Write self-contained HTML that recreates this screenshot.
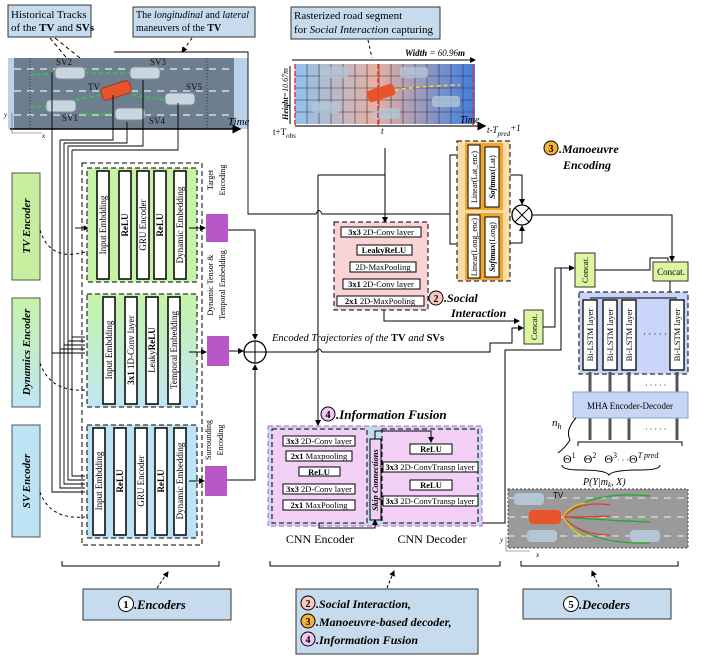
<!DOCTYPE html>
<html><head><meta charset="utf-8"><style>
html,body{margin:0;padding:0;background:#fff}
svg{display:block;font-family:"Liberation Serif",serif}
.b{font-weight:bold}.i{font-style:italic}
</style></head><body>
<svg width="705" height="664" viewBox="0 0 705 664" xmlns="http://www.w3.org/2000/svg">
<defs>
<marker id="ar" markerWidth="6" markerHeight="6" refX="5" refY="3" orient="auto"><path d="M0,0 L6,3 L0,6z" fill="#000"/></marker>
<linearGradient id="dyn" x1="0" y1="0" x2="0" y2="1"><stop offset="0" stop-color="#c6f3a8"/><stop offset="1" stop-color="#bfe6f6"/></linearGradient>
<linearGradient id="ras" x1="0" y1="0" x2="1" y2="0"><stop offset="0" stop-color="#8fc2ee"/><stop offset="0.45" stop-color="#e8b0a0"/><stop offset="1" stop-color="#3f7fe0"/></linearGradient>
</defs>

<rect x="8" y="5" width="83" height="32" fill="#c6dcee" stroke="#333"/>
<text x="11" y="18" font-size="11">Historical Tracks</text>
<text x="11" y="31" font-size="11">of the <tspan class="b">TV</tspan> and <tspan class="b">SVs</tspan></text>
<rect x="133" y="7" width="122" height="30" fill="#c6dcee" stroke="#333"/>
<text x="136" y="18" font-size="10">The <tspan class="i">longitudinal</tspan> and <tspan class="i">lateral</tspan></text>
<text x="136" y="31" font-size="10">maneuvers of the <tspan class="b">TV</tspan></text>
<rect x="291" y="7" width="149" height="32" fill="#c6dcee" stroke="#333"/>
<text x="294" y="19" font-size="11">Rasterized road segment</text>
<text x="294" y="33" font-size="11">for <tspan class="i">Social Interaction</tspan> capturing</text>
<line x1="50" y1="38" x2="70" y2="62" stroke="#000" stroke-dasharray="4,3"/>
<line x1="55" y1="38" x2="110" y2="82" stroke="#000" stroke-dasharray="4,3" marker-end="url(#ar)"/>
<line x1="192" y1="38" x2="182" y2="52" stroke="#000" stroke-dasharray="3,3" marker-end="url(#ar)"/>
<line x1="368" y1="40" x2="372" y2="58" stroke="#000" stroke-dasharray="3,3"/>

<rect x="8" y="58" width="240" height="71" fill="#6d7e8f"/>
<rect x="8" y="58" width="6" height="71" fill="#b9d2ea"/><rect x="234" y="58" width="14" height="71" fill="#b9d2ea"/>
<g stroke="#e6eef4" stroke-dasharray="7,6" stroke-width="1.2"><line x1="14" y1="69" x2="234" y2="69"/><line x1="14" y1="91" x2="234" y2="91"/><line x1="14" y1="115" x2="234" y2="115"/></g>
<line x1="30" y1="58" x2="30" y2="128" stroke="#333" stroke-dasharray="1,2"/><line x1="207" y1="58" x2="207" y2="128" stroke="#333" stroke-dasharray="1,2"/>
<g fill="#c8d6e2" stroke="#889"><rect x="55" y="67" width="30" height="12" rx="4"/><rect x="130" y="67" width="30" height="12" rx="4"/><rect x="46" y="100" width="30" height="12" rx="4"/><rect x="115" y="108" width="30" height="12" rx="4"/><rect x="165" y="93" width="30" height="12" rx="4"/></g>
<rect x="101" y="84" width="30" height="13" rx="4" fill="#e8542a" stroke="#933" transform="rotate(-18 116 90)"/>
<g stroke="#2ed52e" stroke-dasharray="4,3" stroke-width="1.3"><line x1="30" y1="75" x2="55" y2="73"/><line x1="85" y1="73" x2="130" y2="73"/><line x1="30" y1="107" x2="46" y2="106"/><line x1="76" y1="100" x2="100" y2="95"/><line x1="80" y1="114" x2="115" y2="114"/><line x1="132" y1="95" x2="165" y2="100"/></g>
<g font-size="9" fill="#111"><text x="56" y="65">SV2</text><text x="150" y="65">SV3</text><text x="88" y="90">TV</text><text x="186" y="90">SV5</text><text x="62" y="121">SV1</text><text x="149" y="124">SV4</text></g>
<line x1="10" y1="129" x2="240" y2="129" stroke="#000" stroke-width="1.5" marker-end="url(#ar)"/>
<text x="228" y="125" font-size="11" class="i">Time</text>
<path d="M12,113 V133 H42" fill="none" stroke="#555" stroke-width=".6"/><text x="4" y="117" font-size="7" class="i">y</text><text x="42" y="138" font-size="7" class="i">x</text>

<line x1="292" y1="60" x2="475" y2="60" stroke="#000" marker-end="url(#ar)"/>
<text x="405" y="56" font-size="9" class="b i">Width <tspan font-weight="normal">= 60.96</tspan>m</text>
<rect x="295" y="64" width="180" height="60" fill="url(#ras)"/>
<g stroke="#334" stroke-width=".6">
<line x1="295" y1="76" x2="475" y2="76"/><line x1="295" y1="88" x2="475" y2="88"/><line x1="295" y1="100" x2="475" y2="100"/><line x1="295" y1="112" x2="475" y2="112"/>
<line x1="307" y1="64" x2="307" y2="124"/><line x1="319" y1="64" x2="319" y2="124"/><line x1="331" y1="64" x2="331" y2="124"/><line x1="343" y1="64" x2="343" y2="124"/><line x1="355" y1="64" x2="355" y2="124"/><line x1="367" y1="64" x2="367" y2="124"/><line x1="379" y1="64" x2="379" y2="124"/><line x1="391" y1="64" x2="391" y2="124"/><line x1="403" y1="64" x2="403" y2="124"/><line x1="415" y1="64" x2="415" y2="124"/><line x1="427" y1="64" x2="427" y2="124"/><line x1="439" y1="64" x2="439" y2="124"/><line x1="451" y1="64" x2="451" y2="124"/><line x1="463" y1="64" x2="463" y2="124"/></g>
<g fill="#b4c6d6" opacity=".8"><rect x="320" y="67" width="28" height="11" rx="3"/><rect x="400" y="67" width="28" height="11" rx="3"/><rect x="312" y="102" width="28" height="11" rx="3"/><rect x="372" y="108" width="28" height="11" rx="3"/><rect x="432" y="96" width="28" height="11" rx="3"/></g>
<rect x="367" y="87" width="28" height="12" rx="3" fill="#e8542a" transform="rotate(-18 381 93)"/>
<path d="M395,90 Q420,86 460,85" stroke="#f0e020" stroke-width="1.5" stroke-dasharray="4,3" fill="none"/>
<line x1="295" y1="64" x2="295" y2="126" stroke="#e33" stroke-width="1.5" stroke-dasharray="5,2"/><line x1="378" y1="64" x2="378" y2="126" stroke="#e33" stroke-width="1.5" stroke-dasharray="5,2"/><line x1="473" y1="64" x2="473" y2="126" stroke="#e33" stroke-width="1.5" stroke-dasharray="5,2"/>
<line x1="290" y1="66" x2="290" y2="124" stroke="#000"/>
<text x="288" y="120" font-size="8" class="i" transform="rotate(-90 288 120)"><tspan class="b">Height</tspan>=10.67m</text>
<line x1="295" y1="126" x2="485" y2="126" stroke="#444" stroke-width="1.5" marker-end="url(#ar)"/>
<text x="460" y="123" font-size="10" class="i">Time</text>
<text x="273" y="135" font-size="9">t+T<tspan font-size="7" dy="3" class="i">obs</tspan></text>
<text x="381" y="134" font-size="9" class="i">t</text>
<text x="487" y="133" font-size="9" class="i">t-T<tspan font-size="7" dy="3">pred</tspan><tspan dy="-5">+1</tspan></text>

<rect x="12" y="173" width="28" height="107" fill="#c6f0a0" stroke="#555"/>
<text x="30" y="226" font-size="11" class="b i" text-anchor="middle" transform="rotate(-90 30 226)">TV Encoder</text>
<rect x="12" y="298" width="28" height="109" fill="url(#dyn)" stroke="#555"/>
<text x="30" y="352" font-size="11" class="b i" text-anchor="middle" transform="rotate(-90 30 352)">Dynamics Encoder</text>
<rect x="12" y="425" width="28" height="112" fill="#bde4f5" stroke="#555"/>
<text x="30" y="481" font-size="11" class="b i" text-anchor="middle" transform="rotate(-90 30 481)">SV Encoder</text>
<g fill="none" stroke="#000" stroke-dasharray="3,3"><path d="M40,230 Q50,262 85,252"/><path d="M40,363 Q50,392 85,390"/><path d="M40,492 Q50,520 85,517"/></g>

<g fill="none" stroke="#000" stroke-width=".9">
<path d="M52,72 V492 H85"/><path d="M60,140 V488 H85"/><path d="M64,143 V484 H85"/><path d="M68,146 V480 H85"/><path d="M72,150 V476 H85"/>
<path d="M52,353 H85"/><path d="M60,349 H85"/><path d="M64,345 H85"/><path d="M68,341 H85"/><path d="M72,337 H85"/>
<path d="M113,95 V140 H60"/><path d="M127,122 V143 H64"/><path d="M143,80 V146 H68"/><path d="M178,103 V150 H72"/>
<path d="M75,228 H88" marker-end="url(#ar)"/>
<path d="M114,52 H248 V214 H316 Q319,207 322,214 H450"/>
</g>

<rect x="82" y="163" width="120" height="382" fill="none" stroke="#000" stroke-dasharray="5,3"/>
<rect x="87" y="168" width="110" height="114" fill="#c6f3a8" stroke="#000" stroke-dasharray="5,3"/>
<rect x="87" y="294" width="110" height="113" fill="url(#dyn)" stroke="#000" stroke-dasharray="5,3"/>
<rect x="87" y="425" width="110" height="113" fill="#bde4f5" stroke="#000" stroke-dasharray="5,3"/>
<g fill="#fff" stroke="#000" stroke-width="1.5">
<rect x="97" y="171" width="12" height="108"/><rect x="119" y="171" width="12" height="108"/><rect x="137" y="171" width="12" height="108"/><rect x="154" y="171" width="12" height="108"/><rect x="174" y="171" width="12" height="108"/>
<rect x="103" y="297" width="12" height="107"/><rect x="125" y="297" width="12" height="107"/><rect x="146" y="297" width="12" height="107"/><rect x="168" y="297" width="12" height="107"/>
<rect x="93" y="428" width="12" height="107"/><rect x="114" y="428" width="12" height="107"/><rect x="135" y="428" width="12" height="107"/><rect x="155" y="428" width="12" height="107"/><rect x="174" y="428" width="12" height="107"/></g>
<g font-size="9" text-anchor="middle">
<text transform="translate(106,225) rotate(-90)">Input Embdding</text><text class="b" transform="translate(128,225) rotate(-90)">ReLU</text><text transform="translate(146,225) rotate(-90)">GRU Encoder</text><text class="b" transform="translate(163,225) rotate(-90)">ReLU</text><text transform="translate(183,225) rotate(-90)">Dynamic Embedding</text>
<text transform="translate(112,350) rotate(-90)">Input Embdding</text><text transform="translate(134,350) rotate(-90)"><tspan class="b">3x1</tspan> 1D-Conv layer</text><text transform="translate(155,350) rotate(-90)">Leaky<tspan class="b">ReLU</tspan></text><text transform="translate(177,350) rotate(-90)">Temporal Embedding</text>
<text transform="translate(102,481) rotate(-90)">Input Embdding</text><text class="b" transform="translate(123,481) rotate(-90)">ReLU</text><text transform="translate(144,481) rotate(-90)">GRU Encoder</text><text class="b" transform="translate(164,481) rotate(-90)">ReLU</text><text transform="translate(183,481) rotate(-90)">Dynamic Embedding</text>
<text font-size="8" transform="translate(213,180) rotate(-90)">Target</text><text font-size="8" transform="translate(225,180) rotate(-90)">Encoding</text>
<text font-size="8" transform="translate(213,285) rotate(-90)">Dynamic Tensor &amp;</text><text font-size="8" transform="translate(225,285) rotate(-90)">Temporal Embedding</text>
<text font-size="8" transform="translate(211,440) rotate(-90)">Surrounding</text><text font-size="8" transform="translate(223,440) rotate(-90)">Encoding</text>
</g>
<g fill="#b857c8"><rect x="206" y="214" width="22" height="28"/><rect x="207" y="336" width="22" height="30"/><rect x="205" y="466" width="22" height="30"/></g>
<g stroke="#000" fill="none">
<path d="M189,228 H205" marker-end="url(#ar)"/><path d="M189,352 H206" marker-end="url(#ar)"/><path d="M189,481 H204" marker-end="url(#ar)"/>
<path d="M228,230 H255 V339" marker-end="url(#ar)"/><path d="M229,351 H243" marker-end="url(#ar)"/><path d="M227,480 H255 V365" marker-end="url(#ar)"/>
</g>
<circle cx="255" cy="352" r="11" fill="#fff" stroke="#000" stroke-width="1.3"/><path d="M244,352 H266 M255,341 V363" stroke="#000"/>
<text x="272" y="341" font-size="10.5" class="i">Encoded Trajectories of the <tspan class="b" font-style="normal">TV</tspan> and <tspan class="b" font-style="normal">SVs</tspan></text>
<g fill="none" stroke="#000"><path d="M266,352 H316 Q319,346 322,352 H490 V343 H512 V328 H523" marker-end="url(#ar)"/>
<path d="M318,175 V425" marker-end="url(#ar)"/><path d="M318,175 H385"/><path d="M385,148 V222" marker-end="url(#ar)"/>
<path d="M450,214 V155 H456 M450,214 V244 H456" /></g>

<rect x="334" y="222" width="94" height="88" fill="#fad4d4" stroke="#000" stroke-dasharray="5,3"/>
<g fill="#fff" stroke="#000"><rect x="341" y="227" width="80" height="10"/><rect x="357" y="245" width="55" height="10"/><rect x="350" y="262" width="66" height="10"/><rect x="343" y="279" width="77" height="10"/><rect x="337" y="296" width="87" height="10"/></g>
<g font-size="8.5" text-anchor="middle"><text x="381" y="235"><tspan class="b">3x3</tspan> 2D-Conv layer</text><text x="384" y="253" class="b">LeakyReLU</text><text x="383" y="270">2D-MaxPooling</text><text x="381" y="287"><tspan class="b">3x1</tspan> 2D-Conv layer</text><text x="380" y="304"><tspan class="b">2x1</tspan> 2D-MaxPooling</text></g>
<path d="M384,310 V321 H519" stroke="#000" fill="none" marker-end="url(#ar)"/>
<circle cx="436" cy="298" r="7" fill="#f8c9c0" stroke="#000"/><text x="436" y="302" font-size="10" class="b" text-anchor="middle">2</text>
<text x="444" y="302" font-size="12" class="b i">.Social</text><text x="451" y="317" font-size="12" class="b i">Interaction</text>

<rect x="457" y="141" width="53" height="140" fill="#fcdcaa" stroke="#000" stroke-dasharray="5,3"/>
<rect x="465" y="143" width="38" height="67" fill="#f0a830"/><rect x="465" y="213" width="38" height="67" fill="#f0a830"/>
<g fill="#fff" stroke="#000"><rect x="468" y="145" width="12" height="63"/><rect x="485" y="147" width="14" height="60"/><rect x="468" y="215" width="12" height="63"/><rect x="485" y="217" width="14" height="60"/></g>
<g font-size="8" text-anchor="middle"><text transform="translate(477,177) rotate(-90)">Linear(Lat_enc)</text><text transform="translate(495,177) rotate(-90)"><tspan class="b i">Softmax</tspan>(Lat)</text><text transform="translate(477,247) rotate(-90)">Linear(Long_enc)</text><text transform="translate(495,247) rotate(-90)"><tspan class="b i">Softmax</tspan>(Long)</text></g>
<g stroke="#000" fill="none"><path d="M510,175 H522 V204" marker-end="url(#ar)"/><path d="M510,243 H522 V226" marker-end="url(#ar)"/><path d="M532,215 H672 V261" marker-end="url(#ar)"/></g>
<circle cx="522" cy="215" r="10" fill="#fff" stroke="#000" stroke-width="1.3"/><path d="M515,208 L529,222 M529,208 L515,222" stroke="#000"/>
<circle cx="551" cy="148" r="7" fill="#f5b335" stroke="#000"/><text x="551" y="152" font-size="10" class="b" text-anchor="middle">3</text>
<text x="559" y="153" font-size="12" class="b i">.Manoeuvre</text><text x="563" y="169" font-size="12" class="b i">Encoding</text>

<g fill="#dcf7a0" stroke="#333"><rect x="524" y="310" width="19" height="34"/><rect x="575" y="253" width="20" height="34"/><rect x="653" y="262" width="35" height="19"/></g>
<g font-size="8.5" text-anchor="middle"><text transform="translate(537,327) rotate(-90)">Concat.</text><text transform="translate(588,270) rotate(-90)">Concat.</text><text x="671" y="275" font-size="9">Concat.</text></g>
<g stroke="#000" fill="none"><path d="M543,327 H555 V268 H574" marker-end="url(#ar)"/><path d="M595,270 H650 V258 H668 V261"/><path d="M670,281 V292"/>
<path d="M482,523 H505 V350 H561 V268"/></g>

<rect x="579" y="292" width="109" height="82" fill="#c8d4f8" stroke="#000" stroke-dasharray="5,3"/>
<path d="M590,298 H677" stroke="#000"/>
<g fill="#fff" stroke="#000" stroke-width="1.3"><rect x="583" y="300" width="14" height="70"/><rect x="603" y="300" width="14" height="70"/><rect x="622" y="300" width="14" height="70"/><rect x="670" y="300" width="14" height="70"/></g>
<g font-size="8.5" text-anchor="middle"><text transform="translate(593,335) rotate(-90)">Bi-LSTM layer</text><text transform="translate(613,335) rotate(-90)">Bi-LSTM layer</text><text transform="translate(632,335) rotate(-90)">Bi-LSTM layer</text><text transform="translate(680,335) rotate(-90)">Bi-LSTM layer</text></g>
<text x="643" y="337" font-size="9">· · · · ·</text>
<g stroke="#555" stroke-width="3"><line x1="590" y1="372" x2="590" y2="392"/><line x1="610" y1="372" x2="610" y2="392"/><line x1="629" y1="372" x2="629" y2="392"/><line x1="677" y1="372" x2="677" y2="392"/>
<line x1="590" y1="417" x2="590" y2="440"/><line x1="610" y1="417" x2="610" y2="440"/><line x1="629" y1="417" x2="629" y2="440"/><line x1="677" y1="417" x2="677" y2="440"/></g>
<text x="645" y="388" font-size="8">· · · · ·</text><text x="645" y="432" font-size="8">· · · · ·</text>
<rect x="573" y="392" width="115" height="26" fill="#c6d6f4" stroke="#8aa0d0"/>
<text x="630" y="409" font-size="9" text-anchor="middle">MHA Encoder-Decoder</text>
<text x="552" y="426" font-size="11" class="i">n<tspan font-size="8" dy="3">h</tspan></text>
<path d="M576,418 Q565,430 570,440 Q565,448 558,453" fill="none" stroke="#000"/>
<path d="M578,446 V442 H682 V446" fill="none" stroke="#000"/>
<text x="563" y="463" font-size="12">Θ<tspan font-size="8" dy="-5">1</tspan><tspan dy="5" dx="8">Θ</tspan><tspan font-size="8" dy="-5">2</tspan><tspan dy="5" dx="8">Θ</tspan><tspan font-size="8" dy="-5">3</tspan><tspan dy="5" font-size="8">· · ·</tspan><tspan dy="0">Θ</tspan><tspan font-size="8" dy="-5" class="i">T pred</tspan></text>
<path d="M562,465 Q562,470 580,470 Q606,470 609,475 Q612,470 640,470 Q660,470 660,465" fill="none" stroke="#000"/>
<text x="583" y="485" font-size="10" class="i">P(Y|m<tspan font-size="7" dy="2">k</tspan><tspan dy="-2">, X)</tspan></text>

<rect x="508" y="489" width="180" height="59" fill="#9a9a9a" stroke="#444" stroke-dasharray="2,2"/>
<g stroke="#eee" stroke-dasharray="7,6"><line x1="508" y1="498" x2="688" y2="498"/><line x1="508" y1="517" x2="688" y2="517"/><line x1="508" y1="536" x2="688" y2="536"/></g>
<g fill="#b4c6d6"><rect x="514" y="493" width="30" height="12" rx="4"/><rect x="527" y="530" width="30" height="12" rx="4"/><rect x="630" y="530" width="30" height="12" rx="4"/></g>
<rect x="529" y="510" width="32" height="14" rx="4" fill="#e8542a"/>
<text x="553" y="498" font-size="8" font-family="Liberation Sans">TV</text>
<g fill="none" stroke-width="1.2"><path d="M563,517 Q590,490 650,496" stroke="#2a2"/><path d="M563,517 Q600,520 650,522" stroke="#2a2"/><path d="M563,517 Q590,545 650,543" stroke="#2a2"/><path d="M563,517 Q580,500 610,505" stroke="#e33"/><path d="M563,517 Q590,517 610,516" stroke="#e33"/><path d="M563,517 Q580,535 610,535" stroke="#e33"/><path d="M563,517 Q570,505 585,503" stroke="#ec0"/><path d="M563,517 Q575,535 585,537" stroke="#ec0"/></g>
<path d="M506,537 V551 H530" fill="none" stroke="#555" stroke-width=".6"/><text x="500" y="542" font-size="7" class="i">y</text><text x="536" y="557" font-size="7" class="i">x</text>

<text x="336" y="419" font-size="13" class="b i">.Information Fusion</text>
<circle cx="328" cy="414" r="7" fill="#f3c6f3" stroke="#000"/><text x="328" y="418" font-size="10" class="b" text-anchor="middle">4</text>
<rect x="268" y="426" width="214" height="100" fill="#c2dcee" stroke="#e040e0" stroke-dasharray="5,3"/>
<rect x="272" y="429" width="95" height="94" fill="#f2d0f6" stroke="#000" stroke-dasharray="5,3"/>
<rect x="382" y="429" width="96" height="94" fill="#f2d0f6" stroke="#000" stroke-dasharray="5,3"/>
<rect x="370" y="439" width="11" height="81" fill="#f2d0f6" stroke="#000"/>
<text font-size="8.5" class="b i" text-anchor="middle" transform="translate(378,480) rotate(-90)">Skip Connections</text>
<g fill="#fff" stroke="#000"><rect x="283" y="436" width="72" height="10"/><rect x="286" y="451" width="66" height="10"/><rect x="299" y="467" width="41" height="9"/><rect x="283" y="484" width="72" height="10"/><rect x="283" y="500" width="72" height="10"/>
<rect x="410" y="444" width="42" height="10"/><rect x="383" y="462" width="95" height="10"/><rect x="410" y="480" width="42" height="10"/><rect x="383" y="496" width="95" height="10"/></g>
<g font-size="8.5" text-anchor="middle"><text x="319" y="444"><tspan class="b">3x3</tspan> 2D-Conv layer</text><text x="319" y="459"><tspan class="b">2x1</tspan> Maxpooling</text><text x="319" y="475" class="b">ReLU</text><text x="319" y="492"><tspan class="b">3x3</tspan> 2D-Conv layer</text><text x="319" y="508"><tspan class="b">2x1</tspan> MaxPooling</text>
<text x="431" y="452" class="b">ReLU</text><text x="430" y="470"><tspan class="b">3x3</tspan> 2D-ConvTransp layer</text><text x="431" y="488" class="b">ReLU</text><text x="430" y="504"><tspan class="b">3x3</tspan> 2D-ConvTransp layer</text></g>
<g stroke="#000" fill="none"><path d="M319,523 V528 H375 V520" marker-end="url(#ar)"/><path d="M375,439 V431 H431 V442" marker-end="url(#ar)"/></g>
<text x="320" y="543" font-size="12" text-anchor="middle">CNN Encoder</text>
<text x="432" y="543" font-size="12" text-anchor="middle">CNN Decoder</text>

<g fill="none" stroke="#000"><path d="M62,561 V566 H219 V561"/><path d="M270,561 V566 H500 V561"/><path d="M521,561 V566 H678 V561"/>
<path d="M157,588 L168,572" stroke-dasharray="3,2" marker-end="url(#ar)"/><path d="M387,588 L394,571" stroke-dasharray="3,2" marker-end="url(#ar)"/><path d="M599,587 L592,571" stroke-dasharray="3,2" marker-end="url(#ar)"/></g>
<rect x="83" y="589" width="148" height="31" fill="#c6dcee" stroke="#333"/>
<circle cx="126" cy="604" r="7.5" fill="#fff" stroke="#000"/><text x="126" y="608" font-size="11" class="b" text-anchor="middle">1</text>
<text x="134" y="609" font-size="12.5" class="b i">.Encoders</text>
<rect x="296" y="589" width="182" height="65" fill="#c6dcee" stroke="#333"/>
<circle cx="308" cy="603" r="7" fill="#f8c9c0" stroke="#000"/><text x="308" y="607" font-size="10" class="b" text-anchor="middle">2</text>
<circle cx="308" cy="621" r="7" fill="#f5b335" stroke="#000"/><text x="308" y="625" font-size="10" class="b" text-anchor="middle">3</text>
<circle cx="308" cy="639" r="7" fill="#f3c6f3" stroke="#000"/><text x="308" y="643" font-size="10" class="b" text-anchor="middle">4</text>
<text x="316" y="608" font-size="12" class="b i">.Social Interaction,</text>
<text x="316" y="626" font-size="12" class="b i">.Manoeuvre-based decoder,</text>
<text x="316" y="644" font-size="12" class="b i">.Information Fusion</text>
<rect x="523" y="589" width="148" height="30" fill="#c6dcee" stroke="#333"/>
<circle cx="571" cy="604" r="7.5" fill="#fff" stroke="#000"/><text x="571" y="608" font-size="11" class="b" text-anchor="middle">5</text>
<text x="579" y="609" font-size="12.5" class="b i">.Decoders</text>
</svg>
</body></html>
